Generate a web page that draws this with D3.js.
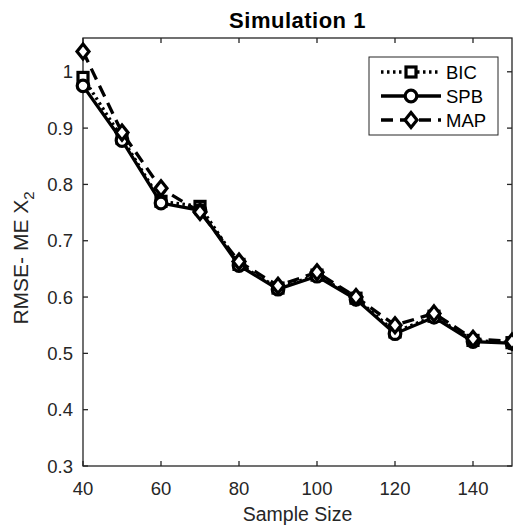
<!DOCTYPE html>
<html>
<head>
<meta charset="utf-8">
<script src="https://cdn.jsdelivr.net/npm/d3@7"></script>
<style>
  body { margin: 0; background: #fff; }
  text { font-family: "Liberation Sans", Arial, sans-serif; fill: #262626; }
</style>
</head>
<body>
<script>
// data
var sampleSize = [40, 50, 60, 70, 80, 90, 100, 110, 120, 130, 140, 150];
var bic = [0.99, 0.882, 0.77, 0.761, 0.658, 0.616, 0.639, 0.598, 0.538, 0.566, 0.523, 0.519];
var spb = [0.975, 0.878, 0.767, 0.754, 0.656, 0.614, 0.637, 0.596, 0.535, 0.564, 0.521, 0.518];
var map = [1.036, 0.892, 0.793, 0.751, 0.663, 0.620, 0.644, 0.600, 0.550, 0.571, 0.526, 0.521];
var xTicks = [40, 60, 80, 100, 120, 140];
var yTicks = [0.3, 0.4, 0.5, 0.6, 0.7, 0.8, 0.9, 1];

var width = 513, height = 529;
var plotLeft = 83, plotRight = 512, plotTop = 38, plotBottom = 466;

var svg = d3.select("body").append("svg")
    .attr("width", width)
    .attr("height", height);

var x = d3.scaleLinear().domain([40, 150]).range([plotLeft, plotRight]);
var y = d3.scaleLinear().domain([0.3, 1.06]).range([plotBottom, plotTop]);

var series = [
  {name: "BIC", values: bic, dash: "2.5,3.5", marker: "square"},
  {name: "SPB", values: spb, dash: null, marker: "circle"},
  {name: "MAP", values: map, dash: "12,7", marker: "diamond"}
];

var ink = "#000";
var axisColor = "#262626";

// axes box with inward ticks on all sides
var ax = svg.append("g");
ax.append("rect")
    .attr("x", plotLeft).attr("y", plotTop)
    .attr("width", plotRight - plotLeft).attr("height", plotBottom - plotTop)
    .attr("fill", "none").attr("stroke", axisColor).attr("stroke-width", 1.3);

xTicks.forEach(function(t) {
  ax.append("line").attr("x1", x(t)).attr("x2", x(t)).attr("y1", plotBottom).attr("y2", plotBottom - 5)
      .attr("stroke", axisColor).attr("stroke-width", 1.3);
  ax.append("line").attr("x1", x(t)).attr("x2", x(t)).attr("y1", plotTop).attr("y2", plotTop + 5)
      .attr("stroke", axisColor).attr("stroke-width", 1.3);
  ax.append("text").attr("x", x(t)).attr("y", plotBottom + 29)
      .attr("text-anchor", "middle").attr("font-size", 18.5).text(t);
});

yTicks.forEach(function(t) {
  ax.append("line").attr("x1", plotLeft).attr("x2", plotLeft + 5).attr("y1", y(t)).attr("y2", y(t))
      .attr("stroke", axisColor).attr("stroke-width", 1.3);
  ax.append("line").attr("x1", plotRight).attr("x2", plotRight - 5).attr("y1", y(t)).attr("y2", y(t))
      .attr("stroke", axisColor).attr("stroke-width", 1.3);
  ax.append("text").attr("x", plotLeft - 10).attr("y", y(t)).attr("dy", "0.36em")
      .attr("text-anchor", "end").attr("font-size", 18.5).text(t);
});

// labels
svg.append("text")
    .attr("x", (plotLeft + plotRight) / 2).attr("y", 28)
    .attr("text-anchor", "middle").attr("font-size", 22).attr("font-weight", "bold")
    .attr("letter-spacing", 0.5)
    .style("fill", "#000")
    .text("Simulation 1");

svg.append("text")
    .attr("x", (plotLeft + plotRight) / 2).attr("y", 521)
    .attr("text-anchor", "middle").attr("font-size", 19.5)
    .text("Sample Size");

var yl = svg.append("text")
    .attr("transform", "translate(28,258)rotate(-90)")
    .attr("text-anchor", "middle").attr("font-size", 21);
yl.append("tspan").text("RMSE- ME X");
yl.append("tspan").attr("font-size", 15).attr("dy", 6).text("2");

// lines
var line = d3.line()
    .x(function(d, i) { return x(sampleSize[i]); })
    .y(function(d) { return y(d); });

function drawMarker(g, type, cx, cy) {
  if (type === "square") {
    g.append("rect").attr("x", cx - 5).attr("y", cy - 5).attr("width", 10).attr("height", 10)
        .attr("fill", "#fff").attr("stroke", ink).attr("stroke-width", 3.2);
  } else if (type === "circle") {
    g.append("circle").attr("cx", cx).attr("cy", cy).attr("r", 5.8)
        .attr("fill", "#fff").attr("stroke", ink).attr("stroke-width", 3.2);
  } else {
    g.append("path")
        .attr("d", "M" + cx + "," + (cy - 7.5) + "L" + (cx + 6) + "," + cy + "L" + cx + "," + (cy + 7.5) + "L" + (cx - 6) + "," + cy + "Z")
        .attr("fill", "#fff").attr("stroke", ink).attr("stroke-width", 3.2);
  }
}

series.forEach(function(s) {
  var g = svg.append("g");
  g.append("path")
      .attr("d", line(s.values))
      .attr("fill", "none")
      .attr("stroke", ink)
      .attr("stroke-width", 3.3)
      .attr("stroke-dasharray", s.dash);
  s.values.forEach(function(v, i) {
    drawMarker(g, s.marker, x(sampleSize[i]), y(v));
  });
});

// legend
var lg = svg.append("g");
lg.append("rect")
    .attr("x", 369).attr("y", 57).attr("width", 129).attr("height", 78)
    .attr("fill", "#fff").attr("stroke", axisColor).attr("stroke-width", 1);

series.forEach(function(s, i) {
  var ly = 72 + i * 24;
  lg.append("line")
      .attr("x1", 381).attr("x2", 441).attr("y1", ly).attr("y2", ly)
      .attr("stroke", ink).attr("stroke-width", 3.3)
      .attr("stroke-dasharray", s.dash);
  drawMarker(lg, s.marker, 411, ly);
  lg.append("text")
      .attr("x", 446).attr("y", ly).attr("dy", "0.36em")
      .attr("font-size", 18.5).style("fill", "#000")
      .text(s.name);
});
</script>
</body>
</html>
